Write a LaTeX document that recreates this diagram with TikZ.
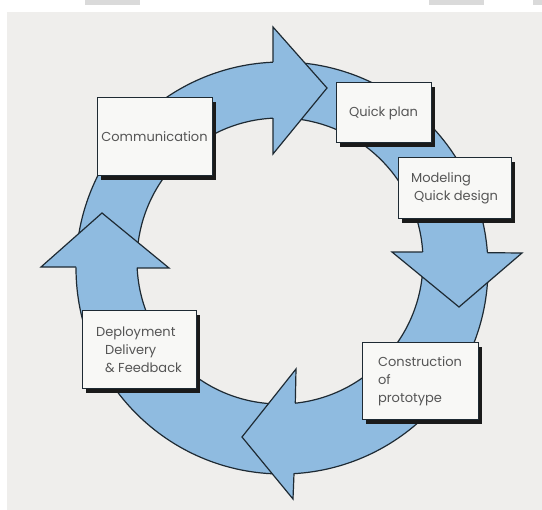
\documentclass[tikz,border=0pt]{standalone}
\usepackage{fontspec}
\setmainfont{Poppins}
\usetikzlibrary{shadows}
\definecolor{pagebg}{HTML}{EFEEEC}
\definecolor{ringblue}{HTML}{8FBBE0}
\definecolor{edgecol}{HTML}{1E2A33}
\definecolor{boxfill}{HTML}{F8F8F6}
\definecolor{txtcol}{HTML}{555555}
\definecolor{shadowcol}{HTML}{1A1A1A}
\definecolor{tabgray}{HTML}{DADADA}
\tikzset{
  ringedge/.style={draw=edgecol, line width=1.2pt},
  headfill/.style={fill=ringblue},
  stagebox/.style={draw=edgecol, line width=1pt, fill=boxfill, text=txtcol,
    font=\fontsize{13}{18}\selectfont, align=left, inner sep=0pt,
    drop shadow={shadow xshift=4pt, shadow yshift=-4pt, fill=shadowcol, opacity=1}}
}
\begin{document}
\begin{tikzpicture}[x=1pt,y=-1pt]
\useasboundingbox (0,0) rectangle (542,510);
\fill[white] (0,0) rectangle (542,510);
\fill[pagebg] (7,12) rectangle (542,510);
\fill[tabgray] (85,0) rectangle (140,5);
\fill[tabgray] (429,0) rectangle (484,5);
\fill[tabgray] (533,0) rectangle (542,5);
% ring
\fill[ringblue, even odd rule] (282,268) circle[radius=206pt] (280,261) circle[radius=143pt];
\draw[ringedge] (282,268) circle[radius=206pt];
\draw[ringedge] (280,261) circle[radius=143pt];
% arrowheads
\fill[headfill] (273,27) -- (327,88) -- (273,154) -- cycle;
\draw[ringedge, line join=miter] (273,62.2) -- (273,27) -- (327,88) -- (273,154) -- (273,118.2);
\fill[headfill] (392,252) -- (459,307) -- (522,253) -- cycle;
\draw[ringedge, line join=miter] (422.7,252) -- (392,252) -- (459,307) -- (522,253) -- (487.4,252.7);
\fill[headfill] (296,369) -- (242,437) -- (293,499) -- cycle;
\draw[ringedge, line join=miter] (295.3,403.2) -- (296,369) -- (242,437) -- (293,499) -- (294,473.6);
\fill[headfill] (41,267) -- (102,213) -- (169,268) -- cycle;
\draw[ringedge, line join=miter] (76,267) -- (41,267) -- (102,213) -- (169,268) -- (137.1,268);
% boxes
\node[stagebox, minimum width=115pt, minimum height=78pt] (comm) at (154.5,137) {Communication};
\node[stagebox, minimum width=95pt, minimum height=60pt] (plan) at (383.5,113) {Quick plan};
\node[stagebox, minimum width=113pt, minimum height=61pt] (model) at (454.5,188.5) {Modeling\\\hspace*{3pt}Quick design};
\node[stagebox, minimum width=116pt, minimum height=77pt] (constr) at (420,381.5) {Construction\\of\\prototype};
\node[stagebox, minimum width=114pt, minimum height=78pt] (deploy) at (139,350) {Deployment\\\hspace*{9pt}Delivery\\\hspace*{9pt}\& Feedback};
\end{tikzpicture}
\end{document}
